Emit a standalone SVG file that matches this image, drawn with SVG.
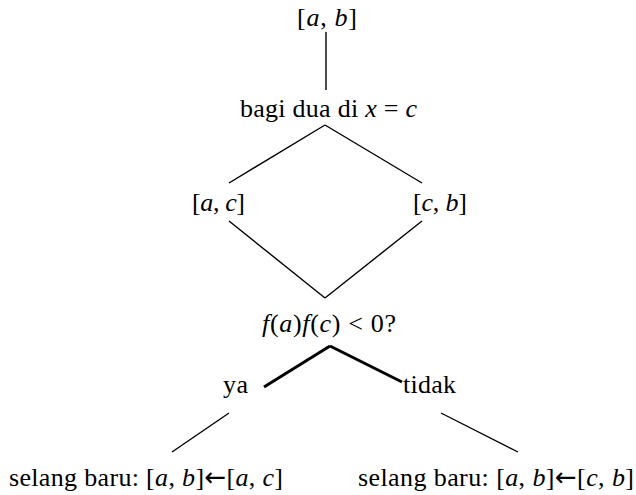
<svg xmlns="http://www.w3.org/2000/svg" width="636" height="495" viewBox="0 0 636 495">
<style>
text{font-family:'Liberation Serif','Times New Roman',Times,serif;font-size:26px;fill:#000}
.i{font-style:italic}
.ar{font-family:'DejaVu Sans',sans-serif;font-size:26px}
.c line{stroke:#000;stroke-width:1.4}
.c .t{stroke-width:3}
</style>
<rect width="636" height="495" fill="#fff"/>
<g class="c" id="connectors">
<line x1="326" y1="32" x2="326" y2="90"/>
<line x1="325" y1="125" x2="229" y2="183"/>
<line x1="325" y1="125" x2="422" y2="183"/>
<line x1="229" y1="221" x2="325" y2="298"/>
<line x1="422" y1="221" x2="325" y2="298"/>
<line class="t" x1="330" y1="346" x2="264" y2="387"/>
<line class="t" x1="330" y1="346" x2="402" y2="382"/>
<line x1="229" y1="413" x2="172" y2="452"/>
<line x1="441" y1="413" x2="518" y2="452"/>
</g>
<g id="n-ab"><text x="297" y="26" textLength="60" lengthAdjust="spacing">[<tspan class="i">a</tspan>, <tspan class="i">b</tspan>]</text></g>
<g id="n-bagi"><text x="240" y="117" textLength="177" lengthAdjust="spacing">bagi dua di <tspan class="i">x</tspan> = <tspan class="i">c</tspan></text></g>
<g id="n-ac"><text x="192" y="211" textLength="53" lengthAdjust="spacing">[<tspan class="i">a</tspan>, <tspan class="i">c</tspan>]</text></g>
<g id="n-cb"><text x="413" y="211" textLength="54" lengthAdjust="spacing">[<tspan class="i">c</tspan>, <tspan class="i">b</tspan>]</text></g>
<g id="n-test"><text x="262" y="332" textLength="134" lengthAdjust="spacing"><tspan class="i">f</tspan>(<tspan class="i">a</tspan>)<tspan class="i">f</tspan>(<tspan class="i">c</tspan>) &lt; 0?</text></g>
<g id="n-ya"><text x="223" y="393" textLength="25" lengthAdjust="spacing">ya</text></g>
<g id="n-tidak"><text x="403" y="393" textLength="53" lengthAdjust="spacing">tidak</text></g>
<g id="n-left"><text x="9" y="486" textLength="274" lengthAdjust="spacing">selang baru: [<tspan class="i">a</tspan>, <tspan class="i">b</tspan>]<tspan class="ar">←</tspan>[<tspan class="i">a</tspan>, <tspan class="i">c</tspan>]</text></g>
<g id="n-right"><text x="358" y="486" textLength="276" lengthAdjust="spacing">selang baru: [<tspan class="i">a</tspan>, <tspan class="i">b</tspan>]<tspan class="ar">←</tspan>[<tspan class="i">c</tspan>, <tspan class="i">b</tspan>]</text></g>
</svg>
